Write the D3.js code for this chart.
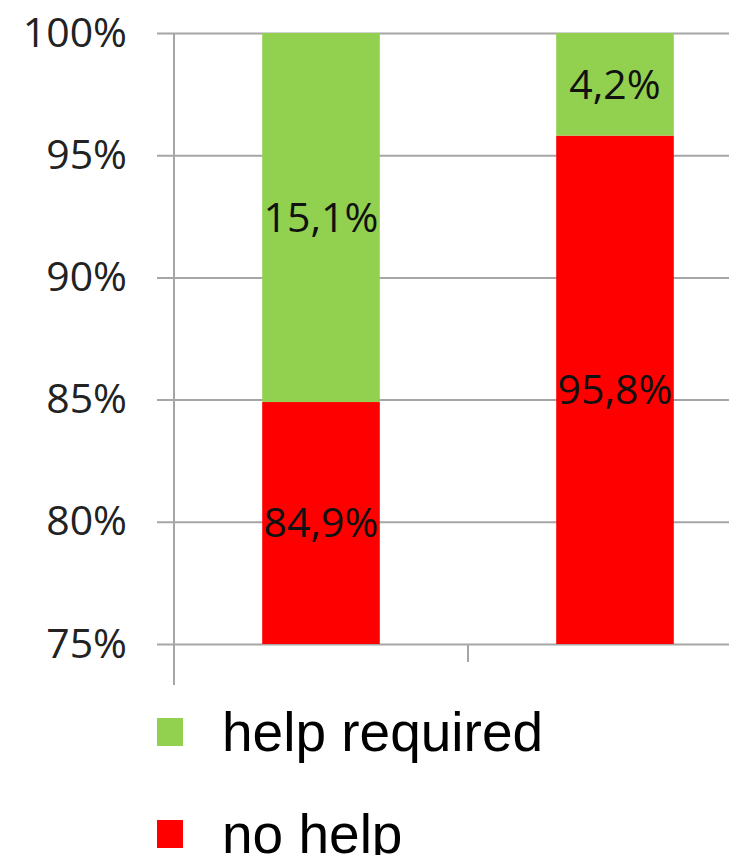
<!DOCTYPE html>
<html>
<head>
<meta charset="utf-8">
<script src="https://cdn.jsdelivr.net/npm/d3@7"></script>
<style>
  body { margin: 0; background: #fff; }
  svg { display: block; }
</style>
</head>
<body>
<div id="chart"></div>
<script>
// stacked 100% bars, y axis cut at 75%

const categories = ["group 1", "group 2"];
const seriesNames = ["help required", "no help"];
const noHelp = [84.9, 95.8];
const helpRequired = [15.1, 4.2];
const yTicks = [75, 80, 85, 90, 95, 100];

const width = 729, height = 855;
const colors = { "help required": "#92d050", "no help": "#ff0000" };

const svg = d3.select("#chart").append("svg")
    .attr("width", width)
    .attr("height", height);

// scales
const y = d3.scaleLinear().domain([75, 100]).range([644, 33]);
const x = d3.scaleBand()
    .domain(categories)
    .range([174, 762])
    .paddingInner(0.6)
    .paddingOuter(0.3);

// gridlines + labels
svg.append("g")
    .attr("transform", "translate(157,0)")
    .call(d3.axisLeft(y).tickValues(yTicks).tickFormat(d => d + "%")
        .tickSize(-(width - 157)).tickPadding(30))
    .call(g => g.select(".domain").remove())
    .call(g => g.selectAll(".tick line").attr("stroke", "#a6a6a6").attr("stroke-width", 2))
    .call(g => g.selectAll(".tick text")
        .attr("fill", "#222")
        .style("font-family", "'Open Sans', sans-serif")
        .style("font-size", "41px"));

// vertical axis line
svg.append("line")
    .attr("x1", 174).attr("x2", 174)
    .attr("y1", y(100)).attr("y2", 685)
    .attr("stroke", "#a6a6a6").attr("stroke-width", 2);

// category separator tick on bottom
const sepX = x(categories[1]) - x.step() * x.paddingInner() / 2;
svg.append("line")
    .attr("x1", sepX).attr("x2", sepX)
    .attr("y1", y(75)).attr("y2", 662)
    .attr("stroke", "#a6a6a6").attr("stroke-width", 2);

// stacked data
const rows = categories.map((c, i) => ({ category: c, "no help": noHelp[i], "help required": helpRequired[i] }));
const stack = d3.stack().keys(["no help", "help required"])(rows);

const clampV = v => Math.max(75, Math.min(100, v));

const layers = svg.append("g").selectAll("g")
    .data(stack)
    .join("g")
    .attr("fill", d => colors[d.key]);

layers.selectAll("rect")
    .data(d => d)
    .join("rect")
    .attr("x", d => x(d.data.category))
    .attr("width", x.bandwidth())
    .attr("y", d => y(clampV(d[1])))
    .attr("height", d => y(clampV(d[0])) - y(clampV(d[1])));

// value labels, centred in the visible part of each segment
layers.selectAll("text")
    .data(d => d.map(s => ({ s, key: d.key })))
    .join("text")
    .attr("x", d => x(d.s.data.category) + x.bandwidth() / 2)
    .attr("y", d => y((clampV(d.s[0]) + clampV(d.s[1])) / 2))
    .attr("dy", "0.35em")
    .attr("text-anchor", "middle")
    .attr("fill", "#111")
    .style("font-family", "'Open Sans', sans-serif")
    .style("font-size", "41px")
    .text(d => d3.format(".1f")(d.s.data[d.key]).replace(".", ",") + "%");

// legend
const legend = svg.append("g");
seriesNames.forEach((name, i) => {
    const row = legend.append("g").attr("transform", `translate(157, ${718 + i * 102})`);
    row.append("rect").attr("width", 26).attr("height", 28).attr("fill", colors[name]);
    row.append("text")
        .attr("x", 65).attr("y", 33)
        .attr("fill", "#000")
        .style("font-family", "'Liberation Sans', Arial, sans-serif")
        .style("font-size", "55px")
        .text(name);
});
</script>
</body>
</html>
